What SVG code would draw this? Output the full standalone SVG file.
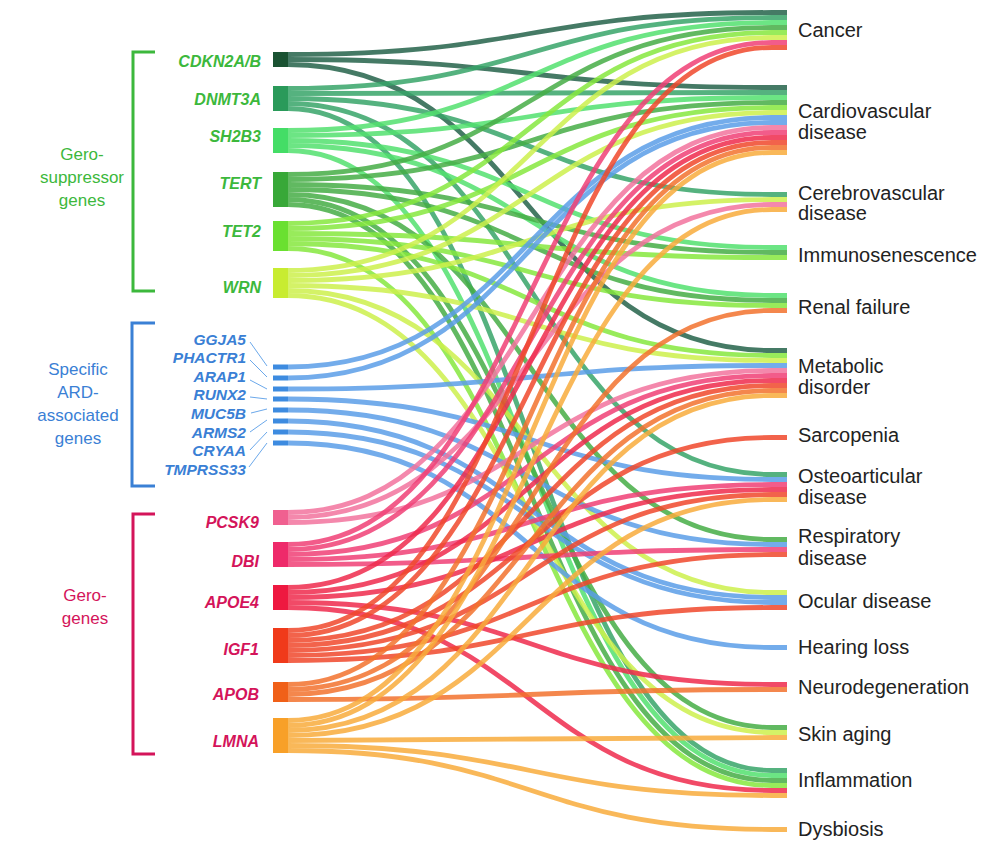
<svg xmlns="http://www.w3.org/2000/svg" width="1000" height="856" viewBox="0 0 1000 856">
<style>
.links path{fill:none;stroke-width:4.8;stroke-opacity:0.85}
.s-cdk{stroke:#24634a}.s-dnm{stroke:#37a568}.s-sh2{stroke:#52e06e}.s-ter{stroke:#45ad45}.s-tet{stroke:#86e83e}.s-wrn{stroke:#cdf04c}
.s-ard{stroke:#5a9ee8}
.s-pcs{stroke:#f2739e}.s-dbi{stroke:#f03f76}.s-apoe{stroke:#ef2a4c}.s-igf{stroke:#f0482c}.s-apob{stroke:#f2722e}.s-lmna{stroke:#f8ac3c}
.f-cdk{fill:#1a5232}.f-dnm{fill:#2a9a5a}.f-sh2{fill:#44dd66}.f-ter{fill:#38a838}.f-tet{fill:#6ae030}.f-wrn{fill:#c8ec30}
.f-ard{fill:#3d8be0}
.f-pcs{fill:#f06090}.f-dbi{fill:#ee2a6a}.f-apoe{fill:#ee1840}.f-igf{fill:#f03a1a}.f-apob{fill:#f06018}.f-lmna{fill:#f8a028}
.gl{font-family:"Liberation Sans",Arial,sans-serif;font-style:italic;font-weight:bold;font-size:16px;text-anchor:end}
.gb{font-size:15.5px}
.green{fill:#3cb83c}.blue{fill:#3a80d5}.pink{fill:#d4145a}
.grp{font-family:"Liberation Sans",Arial,sans-serif;font-size:17px;text-anchor:middle}
.tl{font-family:"Liberation Sans",Arial,sans-serif;font-size:20px;fill:#222}
.br{fill:none;stroke-width:3}
.lead{stroke:#5a9ee8;stroke-width:0.9}
</style>

<g id="brackets">
<path class="br" stroke="#3cb83c" d="M155 52H133V291H155"/>
<path class="br" stroke="#3a80d5" d="M155 323H132V486H155"/>
<path class="br" stroke="#d4145a" d="M155 514H133V754H155"/>
<text class="grp green" x="82"><tspan x="82" y="160">Gero-</tspan><tspan x="82" y="183">suppressor</tspan><tspan x="82" y="206">genes</tspan></text>
<text class="grp blue" x="78"><tspan x="78" y="375">Specific</tspan><tspan x="78" y="398">ARD-</tspan><tspan x="78" y="421">associated</tspan><tspan x="78" y="444">genes</tspan></text>
<text class="grp pink" x="85"><tspan x="85" y="601">Gero-</tspan><tspan x="85" y="624">genes</tspan></text>
</g>

<g id="connectors" class="links">
<path class="s-cdk" d="M288 54.5C530 54.5 530 12.5 772 12.5H787"/>
<path class="s-cdk" d="M288 59.5C530 59.5 530 87.5 772 87.5H787"/>
<path class="s-cdk" d="M288 64.5C530 64.5 530 350.5 772 350.5H787"/>
<path class="s-dnm" d="M288 88.5C530 88.5 530 17.5 772 17.5H787"/>
<path class="s-dnm" d="M288 93.5C530 93.5 530 92.5 772 92.5H787"/>
<path class="s-dnm" d="M288 98.5C530 98.5 530 194.5 772 194.5H787"/>
<path class="s-dnm" d="M288 103.5C530 103.5 530 474.5 772 474.5H787"/>
<path class="s-dnm" d="M288 108.5C530 108.5 530 770.5 772 770.5H787"/>
<path class="s-sh2" d="M288 130.5C530 130.5 530 22.5 772 22.5H787"/>
<path class="s-sh2" d="M288 135.5C530 135.5 530 97.5 772 97.5H787"/>
<path class="s-sh2" d="M288 140.5C530 140.5 530 247.5 772 247.5H787"/>
<path class="s-sh2" d="M288 145.5C530 145.5 530 295.5 772 295.5H787"/>
<path class="s-sh2" d="M288 150.5C530 150.5 530 775.5 772 775.5H787"/>
<path class="s-ter" d="M288 174.5C530 174.5 530 27.5 772 27.5H787"/>
<path class="s-ter" d="M288 179.5C530 179.5 530 102.5 772 102.5H787"/>
<path class="s-ter" d="M288 184.5C530 184.5 530 252.5 772 252.5H787"/>
<path class="s-ter" d="M288 189.5C530 189.5 530 300.5 772 300.5H787"/>
<path class="s-ter" d="M288 194.5C530 194.5 530 539.5 772 539.5H787"/>
<path class="s-ter" d="M288 199.5C530 199.5 530 727.5 772 727.5H787"/>
<path class="s-ter" d="M288 204.5C530 204.5 530 780.5 772 780.5H787"/>
<path class="s-tet" d="M288 223.5C530 223.5 530 32.5 772 32.5H787"/>
<path class="s-tet" d="M288 228.5C530 228.5 530 107.5 772 107.5H787"/>
<path class="s-tet" d="M288 233.5C530 233.5 530 257.5 772 257.5H787"/>
<path class="s-tet" d="M288 238.5C530 238.5 530 305.5 772 305.5H787"/>
<path class="s-tet" d="M288 243.5C530 243.5 530 355.5 772 355.5H787"/>
<path class="s-tet" d="M288 248.5C530 248.5 530 785.5 772 785.5H787"/>
<path class="s-wrn" d="M288 270.5C530 270.5 530 37.5 772 37.5H787"/>
<path class="s-wrn" d="M288 275.5C530 275.5 530 112.5 772 112.5H787"/>
<path class="s-wrn" d="M288 280.5C530 280.5 530 199.5 772 199.5H787"/>
<path class="s-wrn" d="M288 285.5C530 285.5 530 360.5 772 360.5H787"/>
<path class="s-wrn" d="M288 290.5C530 290.5 530 592.5 772 592.5H787"/>
<path class="s-wrn" d="M288 295.5C530 295.5 530 732.5 772 732.5H787"/>
<path class="s-ard" d="M288 367C530 367 530 117.5 772 117.5H787"/>
<path class="s-ard" d="M288 378C530 378 530 122.5 772 122.5H787"/>
<path class="s-ard" d="M288 389C530 389 530 365.5 772 365.5H787"/>
<path class="s-ard" d="M288 399C530 399 530 479.5 772 479.5H787"/>
<path class="s-ard" d="M288 410C530 410 530 544.5 772 544.5H787"/>
<path class="s-ard" d="M288 421C530 421 530 597.5 772 597.5H787"/>
<path class="s-ard" d="M288 432C530 432 530 602.5 772 602.5H787"/>
<path class="s-ard" d="M288 443C530 443 530 647.5 772 647.5H787"/>
<path class="s-pcs" d="M288 512.5C530 512.5 530 127.5 772 127.5H787"/>
<path class="s-pcs" d="M288 517.5C530 517.5 530 204.5 772 204.5H787"/>
<path class="s-pcs" d="M288 522.5C530 522.5 530 370.5 772 370.5H787"/>
<path class="s-dbi" d="M288 544.5C530 544.5 530 42.5 772 42.5H787"/>
<path class="s-dbi" d="M288 549.5C530 549.5 530 132.5 772 132.5H787"/>
<path class="s-dbi" d="M288 554.5C530 554.5 530 375.5 772 375.5H787"/>
<path class="s-dbi" d="M288 559.5C530 559.5 530 484.5 772 484.5H787"/>
<path class="s-dbi" d="M288 564.5C530 564.5 530 549.5 772 549.5H787"/>
<path class="s-apoe" d="M288 587.5C530 587.5 530 137.5 772 137.5H787"/>
<path class="s-apoe" d="M288 592.5C530 592.5 530 380.5 772 380.5H787"/>
<path class="s-apoe" d="M288 597.5C530 597.5 530 489.5 772 489.5H787"/>
<path class="s-apoe" d="M288 602.5C530 602.5 530 684.5 772 684.5H787"/>
<path class="s-apoe" d="M288 607.5C530 607.5 530 790.5 772 790.5H787"/>
<path class="s-igf" d="M288 630.5C530 630.5 530 47.5 772 47.5H787"/>
<path class="s-igf" d="M288 635.5C530 635.5 530 142.5 772 142.5H787"/>
<path class="s-igf" d="M288 640.5C530 640.5 530 385.5 772 385.5H787"/>
<path class="s-igf" d="M288 645.5C530 645.5 530 437.5 772 437.5H787"/>
<path class="s-igf" d="M288 650.5C530 650.5 530 494.5 772 494.5H787"/>
<path class="s-igf" d="M288 655.5C530 655.5 530 554.5 772 554.5H787"/>
<path class="s-igf" d="M288 660.5C530 660.5 530 607.5 772 607.5H787"/>
<path class="s-apob" d="M288 684.5C530 684.5 530 147.5 772 147.5H787"/>
<path class="s-apob" d="M288 689.5C530 689.5 530 310.5 772 310.5H787"/>
<path class="s-apob" d="M288 694.5C530 694.5 530 390.5 772 390.5H787"/>
<path class="s-apob" d="M288 699.5C530 699.5 530 689.5 772 689.5H787"/>
<path class="s-lmna" d="M288 720.5C530 720.5 530 152.5 772 152.5H787"/>
<path class="s-lmna" d="M288 725.5C530 725.5 530 209.5 772 209.5H787"/>
<path class="s-lmna" d="M288 730.5C530 730.5 530 395.5 772 395.5H787"/>
<path class="s-lmna" d="M288 735.5C530 735.5 530 499.5 772 499.5H787"/>
<path class="s-lmna" d="M288 740.5C530 740.5 530 737.5 772 737.5H787"/>
<path class="s-lmna" d="M288 745.5C530 745.5 530 795.5 772 795.5H787"/>
<path class="s-lmna" d="M288 750.5C530 750.5 530 829.5 772 829.5H787"/>
</g>

<g id="node-CDKN2A"><rect class="f-cdk" x="273" y="52" width="15" height="15"/><text class="gl green" x="261" y="67">CDKN2A/B</text></g>
<g id="node-DNMT3A"><rect class="f-dnm" x="273" y="86" width="15" height="25"/><text class="gl green" x="261" y="105">DNMT3A</text></g>
<g id="node-SH2B3"><rect class="f-sh2" x="273" y="128" width="15" height="25"/><text class="gl green" x="261" y="142">SH2B3</text></g>
<g id="node-TERT"><rect class="f-ter" x="273" y="172" width="15" height="35"/><text class="gl green" x="261" y="189">TERT</text></g>
<g id="node-TET2"><rect class="f-tet" x="273" y="221" width="15" height="30"/><text class="gl green" x="261" y="237">TET2</text></g>
<g id="node-WRN"><rect class="f-wrn" x="273" y="268" width="15" height="30"/><text class="gl green" x="261" y="293">WRN</text></g>

<g id="node-GGJA5"><rect class="f-ard" x="273" y="364.5" width="15" height="5"/><line class="lead" x1="250" y1="342" x2="267" y2="366"/><text class="gl gb blue" x="246" y="345">GGJA5</text></g>
<g id="node-PHACTR1"><rect class="f-ard" x="273" y="375.5" width="15" height="5"/><line class="lead" x1="250" y1="360" x2="267" y2="377"/><text class="gl gb blue" x="246" y="363">PHACTR1</text></g>
<g id="node-ARAP1"><rect class="f-ard" x="273" y="386.5" width="15" height="5"/><line class="lead" x1="250" y1="380" x2="267" y2="389"/><text class="gl gb blue" x="246" y="382">ARAP1</text></g>
<g id="node-RUNX2"><rect class="f-ard" x="273" y="396.5" width="15" height="5"/><line class="lead" x1="250" y1="397" x2="267" y2="399"/><text class="gl gb blue" x="246" y="400">RUNX2</text></g>
<g id="node-MUC5B"><rect class="f-ard" x="273" y="407.5" width="15" height="5"/><line class="lead" x1="251" y1="413" x2="267" y2="409"/><text class="gl gb blue" x="246" y="419">MUC5B</text></g>
<g id="node-ARMS2"><rect class="f-ard" x="273" y="418.5" width="15" height="5"/><line class="lead" x1="250" y1="432" x2="267" y2="420"/><text class="gl gb blue" x="246" y="438">ARMS2</text></g>
<g id="node-CRYAA"><rect class="f-ard" x="273" y="429.5" width="15" height="5"/><line class="lead" x1="250" y1="450" x2="267" y2="432"/><text class="gl gb blue" x="246" y="456">CRYAA</text></g>
<g id="node-TMPRSS33"><rect class="f-ard" x="273" y="440.5" width="15" height="5"/><line class="lead" x1="249" y1="467" x2="267" y2="443"/><text class="gl gb blue" x="246" y="475">TMPRSS33</text></g>

<g id="node-PCSK9"><rect class="f-pcs" x="273" y="510" width="15" height="15"/><text class="gl pink" x="259" y="528">PCSK9</text></g>
<g id="node-DBI"><rect class="f-dbi" x="273" y="542" width="15" height="25"/><text class="gl pink" x="259" y="567">DBI</text></g>
<g id="node-APOE4"><rect class="f-apoe" x="273" y="585" width="15" height="25"/><text class="gl pink" x="259" y="608">APOE4</text></g>
<g id="node-IGF1"><rect class="f-igf" x="273" y="628" width="15" height="35"/><text class="gl pink" x="259" y="655">IGF1</text></g>
<g id="node-APOB"><rect class="f-apob" x="273" y="682" width="15" height="20"/><text class="gl pink" x="259" y="700">APOB</text></g>
<g id="node-LMNA"><rect class="f-lmna" x="273" y="718" width="15" height="35"/><text class="gl pink" x="259" y="747">LMNA</text></g>

<g id="node-cancer"><text class="tl" x="798" y="37">Cancer</text></g>
<g id="node-cardiovascular"><text class="tl"><tspan x="798" y="118">Cardiovascular</tspan><tspan x="798" y="139">disease</tspan></text></g>
<g id="node-cerebrovascular"><text class="tl"><tspan x="798" y="200">Cerebrovascular</tspan><tspan x="798" y="220">disease</tspan></text></g>
<g id="node-immunosenescence"><text class="tl" x="798" y="262">Immunosenescence</text></g>
<g id="node-renal"><text class="tl" x="798" y="314">Renal failure</text></g>
<g id="node-metabolic"><text class="tl"><tspan x="798" y="373">Metabolic</tspan><tspan x="798" y="394">disorder</tspan></text></g>
<g id="node-sarcopenia"><text class="tl" x="798" y="442">Sarcopenia</text></g>
<g id="node-osteoarticular"><text class="tl"><tspan x="798" y="483">Osteoarticular</tspan><tspan x="798" y="504">disease</tspan></text></g>
<g id="node-respiratory"><text class="tl"><tspan x="798" y="543">Respiratory</tspan><tspan x="798" y="565">disease</tspan></text></g>
<g id="node-ocular"><text class="tl" x="798" y="608">Ocular disease</text></g>
<g id="node-hearing"><text class="tl" x="798" y="654">Hearing loss</text></g>
<g id="node-neuro"><text class="tl" x="798" y="694">Neurodegeneration</text></g>
<g id="node-skin"><text class="tl" x="798" y="741">Skin aging</text></g>
<g id="node-inflammation"><text class="tl" x="798" y="787">Inflammation</text></g>
<g id="node-dysbiosis"><text class="tl" x="798" y="836">Dysbiosis</text></g>
</svg>
